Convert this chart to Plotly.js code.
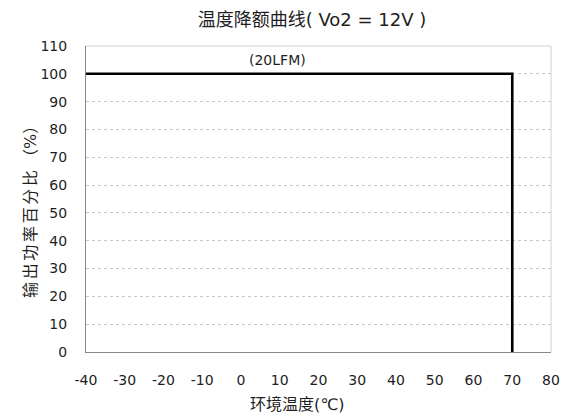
<!DOCTYPE html>
<html><head><meta charset="utf-8">
<script src="https://cdn.plot.ly/plotly-3.0.1.min.js"></script>
<style>body{margin:0;background:#fff}#c{width:569px;height:417px}</style>
</head><body><div id="c"></div>
<script>
const temps = [-40, 70, 70];
const power = [100, 100, 0];
const xTicks = [-40, -30, -20, -10, 0, 10, 20, 30, 40, 50, 60, 70, 80];
const yTicks = [0, 10, 20, 30, 40, 50, 60, 70, 80, 90, 100, 110];
const titleText = '温度降额曲线( Vo2 = 12V )';
const xTitle = '环境温度(℃)';
const yTitle = '输\u2006出\u2006功\u2006率\u2006百\u2006分\u2006比 （%）';
const labelText = '(20LFM)';
const labelX = 9.3, labelY = 105;

const F = '"DejaVu Sans", "Noto Sans CJK SC", sans-serif';
const C = '#1e1e1e';
Plotly.newPlot('c', [{
  x: temps, y: power, mode: 'lines', type: 'scatter',
  line: {color: '#000', width: 2.6}, hoverinfo: 'skip', showlegend: false
}], {
  width: 569, height: 417,
  margin: {l: 86, r: 18, t: 46, b: 65},
  paper_bgcolor: '#fff', plot_bgcolor: '#fff',
  font: {family: F, color: C, size: 14},
  title: {text: titleText, font: {family: F, size: 18, color: C}, x: 312/569, xanchor: 'center', y: 1 - 20/417, yanchor: 'middle'},
  xaxis: {
    range: [-40, 80], tickvals: xTicks, ticktext: xTicks.map(String),
    showgrid: false, zeroline: false, showline: true, linecolor: '#888', linewidth: 1, mirror: false,
    ticks: '', ticklabelstandoff: 15, tickfont: {family: F, size: 14, color: C}
  },
  yaxis: {
    range: [0, 110], tickvals: yTicks, ticktext: yTicks.map(String),
    showgrid: true, gridcolor: '#c8c8c8', griddash: 'dot', gridwidth: 1,
    zeroline: false, showline: true, linecolor: '#888', linewidth: 1,
    ticks: '', ticklabelstandoff: 15, tickfont: {family: F, size: 14, color: C}
  },
  shapes: [
    {type: 'line', xref: 'paper', yref: 'paper', x0: 0, x1: 1, y0: 1, y1: 1, line: {color: '#d0d0d0', width: 1}},
    {type: 'line', xref: 'paper', yref: 'paper', x0: 1, x1: 1, y0: 0, y1: 1, line: {color: '#d0d0d0', width: 1}}
  ],
  annotations: [
    {x: labelX, y: labelY, xref: 'x', yref: 'y', text: labelText, showarrow: false,
      font: {family: F, size: 14, color: C}},
    {x: (297 - 86) / 465, y: -(404 - 352) / 306, xref: 'paper', yref: 'paper', text: xTitle, showarrow: false,
      xanchor: 'center', yanchor: 'middle', font: {family: F, size: 16, color: C}},
    {x: -(86 - 30) / 465, y: (352 - 208) / 306, xref: 'paper', yref: 'paper', text: yTitle, showarrow: false,
      textangle: -90, xanchor: 'center', yanchor: 'middle', font: {family: F, size: 16, color: C}}
  ]
}, {displayModeBar: false, staticPlot: true});
</script></body></html>
